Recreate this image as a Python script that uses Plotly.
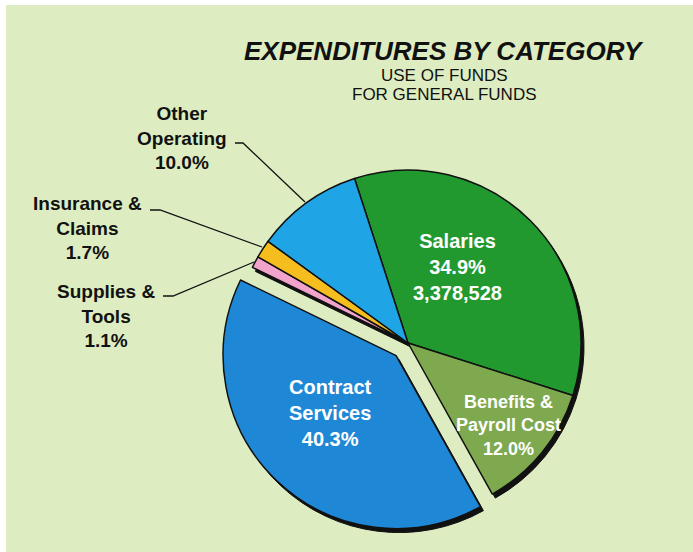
"""Expenditures by category pie chart (use of general funds)."""

import plotly.graph_objects as go

W, H = 693, 552

# data, clockwise from the Salaries slice
categories = ["Salaries", "Benefits &<br>Payroll Cost", "Contract<br>Services",
              "Supplies &<br>Tools", "Insurance &<br>Claims", "Other<br>Operating"]
shares = [34.9, 12.0, 40.3, 1.1, 1.7, 10.0]
salaries_amount = "3,378,528"
pulls = [0, 0, 0.1, 0, 0, 0]
colors = ["#22992f", "#7ea94f", "#1e88d6", "#f2a3cc", "#f5bd1e", "#1fa4e6"]

BG = "#ddedc1"
FONT = "Liberation Sans, Arial, sans-serif"

cx, cy, r = 408, 343, 173
half = r * (1 + max(pulls))


def pie_domain(dx=0, dy=0):
    x0 = (cx + dx - half) / W
    x1 = (cx + dx + half) / W
    y0 = 1 - (cy + dy + half) / H
    y1 = 1 - (cy + dy - half) / H
    return dict(x=[x0, x1], y=[y0, y1])


fig = go.Figure()

# drop shadow behind the pie
fig.add_trace(go.Pie(
    values=shares, labels=categories, pull=pulls, sort=False,
    direction="clockwise", rotation=-18, textinfo="none", hoverinfo="skip",
    marker=dict(colors=["#111111"] * len(shares), line=dict(color="#111111", width=1)),
    domain=pie_domain(3, 4), showlegend=False,
))

fig.add_trace(go.Pie(
    values=shares, labels=categories, pull=pulls, sort=False,
    direction="clockwise", rotation=-18, textinfo="none",
    marker=dict(colors=colors, line=dict(color="#111111", width=1.5)),
    domain=pie_domain(), showlegend=False,
))

pct = [f"{v:.1f}%" for v in shares]

inside = [
    (457, 267, f"{categories[0]}<br>{pct[0]}<br>{salaries_amount}", 20),
    (508, 425, f"{categories[1]}<br>{pct[1]}", 18),
    (330, 413, f"{categories[2]}<br>{pct[2]}", 20),
]
outside = [
    (182, 138, f"{categories[5]}<br>{pct[5]}"),
    (87, 228, f"{categories[4]}<br>{pct[4]}"),
    (106, 316, f"{categories[3]}<br>{pct[3]}"),
]

annotations = [
    dict(x=444, y=51, text="<b><i>EXPENDITURES BY CATEGORY</i></b>",
         font=dict(size=26, color="#111111", family=FONT)),
    dict(x=444, y=75, text="USE OF FUNDS",
         font=dict(size=17, color="#111111", family=FONT)),
    dict(x=444, y=94, text="FOR GENERAL FUNDS",
         font=dict(size=17, color="#111111", family=FONT)),
]
for x, y, t, s in inside:
    annotations.append(dict(x=x, y=y, text=f"<b>{t}</b>",
                            font=dict(size=s, color="white", family=FONT)))
for x, y, t in outside:
    annotations.append(dict(x=x, y=y, text=f"<b>{t}</b>",
                            font=dict(size=19, color="#111111", family=FONT)))
for a in annotations:
    a.update(xref="x", yref="y", showarrow=False, xanchor="center", yanchor="middle")

leaders = [
    "M 235 143 L 243 143 L 305 202",
    "M 150 210 L 160 210 L 262 247",
    "M 163 296 L 173 296 L 254 262",
]
# white scan edges along the top and left
shapes = [
    dict(type="rect", xref="x", yref="y", x0=0, x1=W, y0=0, y1=5,
         fillcolor="white", line=dict(width=0), layer="below"),
    dict(type="rect", xref="x", yref="y", x0=0, x1=6, y0=0, y1=H,
         fillcolor="white", line=dict(width=0), layer="below"),
]
for p in leaders:
    shapes.append(dict(type="path", path=p, xref="x", yref="y",
                       line=dict(color="#111111", width=1.3)))

fig.update_layout(
    width=W, height=H,
    margin=dict(l=0, r=0, t=0, b=0),
    paper_bgcolor=BG, plot_bgcolor="rgba(0,0,0,0)",
    xaxis=dict(range=[0, W], visible=False, fixedrange=True),
    yaxis=dict(range=[H, 0], visible=False, fixedrange=True),
    annotations=annotations,
    shapes=shapes,
    font=dict(family=FONT),
)

fig.write_html(
    "out.html", config={"displayModeBar": False},
    post_script=f"document.body.style.margin='0';document.body.style.background='{BG}';",
)
